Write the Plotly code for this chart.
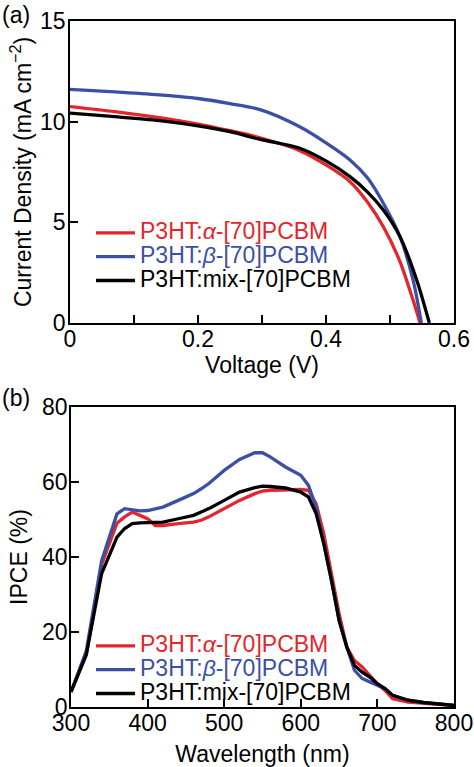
import plotly.graph_objects as go

# ---------- (a) J-V data ----------
v_alpha = [0, 0.07, 0.14, 0.2, 0.25, 0.297, 0.359, 0.4, 0.4375, 0.465, 0.4896, 0.5156, 0.536, 0.547]
j_alpha = [10.75, 10.5, 10.2, 9.88, 9.55, 9.2, 8.56, 7.85, 7.02, 6.0, 4.78, 3.05, 1.14, 0]

v_beta = [0, 0.07, 0.14, 0.2, 0.25, 0.297, 0.359, 0.4, 0.4375, 0.465, 0.4896, 0.5156, 0.536, 0.549]
j_beta = [11.6, 11.48, 11.33, 11.15, 10.9, 10.6, 9.75, 8.95, 8.1, 7.2, 5.95, 4.29, 2.14, 0]

v_mix = [0, 0.07, 0.14, 0.2, 0.25, 0.297, 0.359, 0.4, 0.4375, 0.465, 0.4896, 0.5156, 0.5417, 0.5615]
j_mix = [10.42, 10.25, 10.05, 9.79, 9.5, 9.12, 8.68, 8.05, 7.27, 6.5, 5.61, 4.29, 2.14, 0]

# ---------- (b) IPCE data ----------
wavelength = [300, 320, 340, 360, 370, 380, 390, 400, 410, 420, 440, 460, 470, 480, 500, 520, 540, 550,
              560, 580, 600, 610, 620, 630, 640, 650, 660, 670, 680, 690, 700, 710, 720, 740, 760, 780, 800]
ipce_alpha = [4, 14, 38, 49, 50.7, 52, 51.1, 50.2, 48.4, 48.4, 48.9, 49.3, 49.8, 50.7, 52.9, 55.1, 56.9, 57.6,
              57.8, 58, 58, 57.8, 54.2, 46.2, 35.6, 24.9, 16, 12.4, 10.7, 8.4, 6.2, 4.4, 2.2, 1.3, 0.9, 0.7, 0.4]
ipce_beta = [4, 15, 39, 51.5, 52.9, 52.6, 52.3, 52.4, 52.8, 53.3, 55.1, 56.9, 58.2, 59.6, 63.1, 66, 67.8, 67.8,
             66.7, 64, 61.8, 59.1, 53.3, 43.6, 33.8, 23.1, 16, 9.8, 7.6, 6.7, 5.8, 4.9, 3.1, 1.8, 1.2, 0.9, 0.4]
ipce_mix = [4, 14, 35.6, 45.3, 47.6, 48.9, 49.1, 49.1, 49.2, 49.3, 50.2, 51.1, 52, 52.9, 55.1, 57.3, 58.5, 58.9,
            58.8, 58.4, 57.3, 56, 51.6, 43.6, 33.8, 23.1, 16, 11.1, 9.3, 8, 6.2, 4.9, 3.1, 1.8, 1.2, 0.9, 0.4]

RED = "#e3262b"
BLUE = "#3b4fa6"
BLACK = "#000000"
FONT = "Liberation Sans, Arial, sans-serif"
FS = 23


def lname(text, color):
    return f'<span style="color:{color};font-size:{FS}px">{text}</span>'


names = [lname("P3HT:<i>α</i>-[70]PCBM", RED),
         lname("P3HT:<i>β</i>-[70]PCBM", BLUE),
         lname("P3HT:mix-[70]PCBM", BLACK)]

fig = go.Figure()

for v, j, c, n in [(v_alpha, j_alpha, RED, names[0]), (v_beta, j_beta, BLUE, names[1]), (v_mix, j_mix, BLACK, names[2])]:
    fig.add_trace(go.Scatter(x=v, y=j, mode="lines", line=dict(color=c, width=3.3, shape="spline", smoothing=0.8),
                             name=n, xaxis="x", yaxis="y", legend="legend"))

for y, c, n in [(ipce_alpha, RED, names[0]), (ipce_beta, BLUE, names[1]), (ipce_mix, BLACK, names[2])]:
    fig.add_trace(go.Scatter(x=wavelength, y=y, mode="lines", line=dict(color=c, width=3.3),
                             name=n, xaxis="x2", yaxis="y2", legend="legend2"))

W, H = 474, 767
axcommon = dict(showline=True, linecolor="black", linewidth=1.5, mirror=True, ticks="inside",
                ticklen=8, tickwidth=1.5, tickcolor="black", showgrid=False, zeroline=False,
                automargin=False, tickfont=dict(family=FONT, size=FS, color="black"))

fig.update_layout(
    width=W, height=H, margin=dict(l=0, r=0, t=0, b=0),
    paper_bgcolor="white", plot_bgcolor="white",
    font=dict(family=FONT, size=FS, color="black"),
    xaxis=dict(domain=[70 / W, 454 / W], range=[0, 0.6], dtick=0.2, anchor="y", ticklabelstandoff=-5,
               minor=dict(dtick=0.1, ticks="inside", ticklen=8, tickwidth=1.5, tickcolor="black"),
               title=dict(text="Voltage (V)", font=dict(family=FONT, size=FS), standoff=6),
               **axcommon),
    yaxis=dict(domain=[1 - 323 / H, 1 - 21 / H], range=[0, 15], dtick=5, anchor="x", ticklabelstandoff=-2,
               title=dict(text="Current Density (mA cm<sup>−2</sup>)", font=dict(family=FONT, size=FS), standoff=2),
               **axcommon),
    xaxis2=dict(domain=[71 / W, 454 / W], range=[300, 800], dtick=100, anchor="y2", ticklabelstandoff=-5,
                title=dict(text="Wavelength (nm)", font=dict(family=FONT, size=FS), standoff=12),
                **axcommon),
    yaxis2=dict(domain=[1 - 707 / H, 1 - 407 / H], range=[0, 80], dtick=20, anchor="x2", ticklabelstandoff=-3,
                title=dict(text="IPCE (%)", font=dict(family=FONT, size=FS), standoff=8),
                **axcommon),
    legend=dict(x=91 / W, xanchor="left", y=1 - 216 / H, yanchor="top", bgcolor="rgba(0,0,0,0)",
                font=dict(family=FONT, size=16), tracegroupgap=0, itemwidth=39),
    legend2=dict(x=91 / W, xanchor="left", y=1 - 629 / H, yanchor="top", bgcolor="rgba(0,0,0,0)",
                 font=dict(family=FONT, size=16), tracegroupgap=0, itemwidth=39),
    annotations=[
        dict(text="(a)", x=0, y=1, xref="paper", yref="paper", xanchor="left", yanchor="top",
             showarrow=False, font=dict(family=FONT, size=FS)),
        dict(text="(b)", x=0, y=1 - 383 / H, xref="paper", yref="paper", xanchor="left", yanchor="top",
             showarrow=False, font=dict(family=FONT, size=FS)),
    ],
)

fig.write_html("out.html", config={"displayModeBar": False},
               post_script="document.body.style.margin='0';document.body.style.overflow='hidden';")
